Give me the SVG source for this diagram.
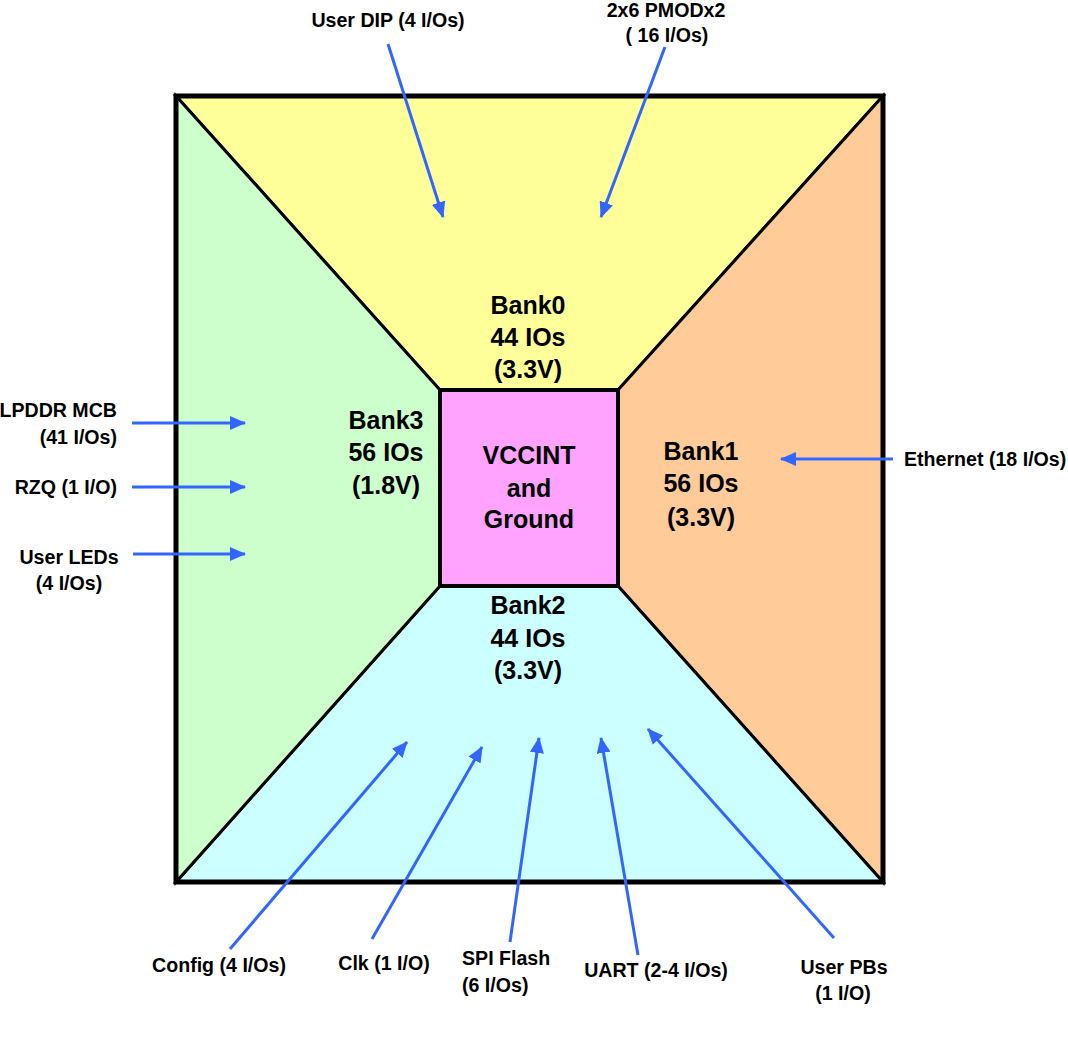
<svg xmlns="http://www.w3.org/2000/svg" width="1068" height="1045" viewBox="0 0 1068 1045">
<style>
.bank{stroke:#000;stroke-width:3;stroke-linejoin:miter}
.big{font-family:"Liberation Sans",Arial,sans-serif;font-weight:bold;font-size:25px;text-anchor:middle;fill:#000}
.lbl{font-family:"Liberation Sans",Arial,sans-serif;font-weight:bold;font-size:19.6px;fill:#000}
.c{text-anchor:middle}
.r{text-anchor:end}
.l{text-anchor:start}
.arr{stroke:#3366FF;stroke-width:3;fill:none;marker-end:url(#ah)}
</style>
<defs>
<marker id="ah" markerUnits="userSpaceOnUse" markerWidth="16" markerHeight="14" refX="15" refY="7" orient="auto">
<path d="M0,0 L16,7 L0,14 Z" fill="#3366FF"/>
</marker>
</defs>
<rect width="1068" height="1045" fill="#fff"/>
<g id="bank0">
<polygon class="bank" points="176,96 883,96 618,390 440,390" fill="#FFFF99"/>
</g>
<g id="bank1">
<polygon class="bank" points="883,96 883,882 618,586 618,390" fill="#FFCC99"/>
</g>
<g id="bank2">
<polygon class="bank" points="176,882 883,882 618,586 440,586" fill="#CCFFFF"/>
</g>
<g id="bank3">
<polygon class="bank" points="176,96 440,390 440,586 176,882" fill="#CCFFCC"/>
</g>
<g id="core">
<rect x="440" y="390" width="178" height="196" fill="#FFA3FF" stroke="#000" stroke-width="4"/>
<text class="big" x="529" y="464">VCCINT</text>
<text class="big" x="529" y="497">and</text>
<text class="big" x="529" y="528">Ground</text>
</g>
<g id="outline">
<rect x="176" y="96" width="707" height="786" fill="none" stroke="#000" stroke-width="5"/>
</g>
<g id="bank0-text">
<text class="big" x="528" y="314">Bank0</text>
<text class="big" x="528" y="346">44 IOs</text>
<text class="big" x="528" y="378">(3.3V)</text>
</g>
<g id="bank3-text">
<text class="big" x="386" y="429">Bank3</text>
<text class="big" x="386" y="461">56 IOs</text>
<text class="big" x="386" y="494">(1.8V)</text>
</g>
<g id="bank1-text">
<text class="big" x="701" y="460">Bank1</text>
<text class="big" x="701" y="492">56 IOs</text>
<text class="big" x="701" y="526">(3.3V)</text>
</g>
<g id="bank2-text">
<text class="big" x="528" y="614">Bank2</text>
<text class="big" x="528" y="647">44 IOs</text>
<text class="big" x="528" y="679">(3.3V)</text>
</g>
<g id="connectors">
<line class="arr" x1="388" y1="44" x2="443" y2="217"/>
<line class="arr" x1="665" y1="47" x2="601" y2="217"/>
<line class="arr" x1="132" y1="423" x2="245" y2="423"/>
<line class="arr" x1="132" y1="487" x2="245" y2="487"/>
<line class="arr" x1="133" y1="554" x2="245" y2="554"/>
<line class="arr" x1="893" y1="459" x2="781" y2="459"/>
<line class="arr" x1="230" y1="949" x2="407" y2="742"/>
<line class="arr" x1="372" y1="939" x2="482" y2="747"/>
<line class="arr" x1="510" y1="942" x2="539" y2="738"/>
<line class="arr" x1="638" y1="955" x2="601" y2="738"/>
<line class="arr" x1="834" y1="938" x2="648" y2="729"/>
</g>
<g id="user-dip"><text class="lbl c" x="388" y="27">User DIP (4 I/Os)</text></g>
<g id="pmod"><text class="lbl c" x="666" y="17">2x6 PMODx2</text><text class="lbl c" x="667" y="42">( 16 I/Os)</text></g>
<g id="lpddr"><text class="lbl r" x="117" y="417">LPDDR MCB</text><text class="lbl r" x="117" y="444">(41 I/Os)</text></g>
<g id="rzq"><text class="lbl r" x="117" y="494">RZQ (1 I/O)</text></g>
<g id="leds"><text class="lbl c" x="69" y="564">User LEDs</text><text class="lbl c" x="69" y="590">(4 I/Os)</text></g>
<g id="ethernet"><text class="lbl l" x="904" y="466">Ethernet (18 I/Os)</text></g>
<g id="config"><text class="lbl c" x="219" y="972">Config (4 I/Os)</text></g>
<g id="clk"><text class="lbl c" x="384" y="970">Clk (1 I/O)</text></g>
<g id="spi"><text class="lbl l" x="462" y="965">SPI Flash</text><text class="lbl l" x="462" y="992">(6 I/Os)</text></g>
<g id="uart"><text class="lbl c" x="656" y="977">UART (2-4 I/Os)</text></g>
<g id="pbs"><text class="lbl c" x="844" y="974">User PBs</text><text class="lbl c" x="843" y="1000">(1 I/O)</text></g>
</svg>
